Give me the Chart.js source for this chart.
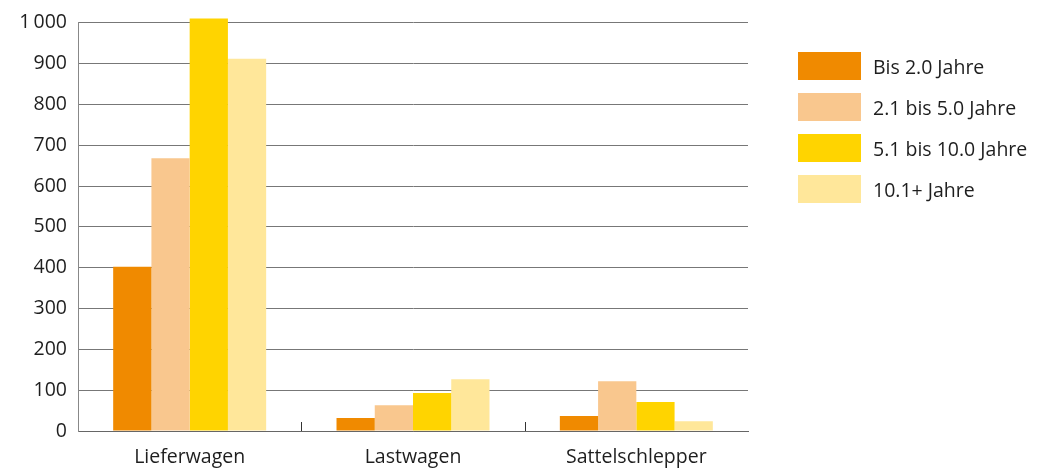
<!DOCTYPE html>
<html>
<head>
<meta charset="utf-8">
<script src="https://cdn.jsdelivr.net/npm/chart.js@4"></script>
<style>
  html, body { margin: 0; padding: 0; background: #fff; }
  #wrap { position: relative; width: 1044px; height: 468px; }
  #legend { position: absolute; left: 798px; top: 52px; font-family: "Open Sans", sans-serif; font-size: 19.5px; color: #1e1e1e; }
  #legend div { display: flex; align-items: center; height: 28px; margin-bottom: 13px; }
  #legend span.box { display: inline-block; width: 63px; height: 28px; margin-right: 12px; }
</style>
</head>
<body>
<div id="wrap">
  <canvas id="chart" width="1044" height="468"></canvas>
  <div id="legend"></div>
</div>
<script>
const categories = ["Lieferwagen", "Lastwagen", "Sattelschlepper"];
const seriesNames = ["Bis 2.0 Jahre", "2.1 bis 5.0 Jahre", "5.1 bis 10.0 Jahre", "10.1+ Jahre"];
const bis2 = [402, 32, 37];
const bis5 = [668, 63, 122];
const bis10 = [1010, 93, 71];
const ueber10 = [912, 127, 24];
const yTicks = [0, 100, 200, 300, 400, 500, 600, 700, 800, 900, 1000];
const colors = ["#F08A00", "#F9C78E", "#FFD400", "#FFE79A"];

const fontFamily = "'Open Sans', sans-serif";

// small upward ticks between the categories
const categoryTicks = {
  id: "categoryTicks",
  afterDraw(chart) {
    const x = chart.scales.x;
    const ctx = chart.ctx;
    const bottom = chart.chartArea.bottom;
    ctx.save();
    ctx.strokeStyle = "#333";
    ctx.lineWidth = 1;
    for (let i = 1; i < categories.length; i++) {
      const px = Math.round((x.getPixelForValue(i - 1) + x.getPixelForValue(i)) / 2) + 0.5;
      ctx.beginPath();
      ctx.moveTo(px, bottom - 9);
      ctx.lineTo(px, bottom);
      ctx.stroke();
    }
    ctx.restore();
  }
};

const allSeries = [bis2, bis5, bis10, ueber10];
const ctx = document.getElementById("chart").getContext("2d");
const chart = new Chart(ctx, {
  type: "bar",
  data: {
    labels: categories,
    datasets: allSeries.map((values, i) => ({
      label: seriesNames[i],
      data: values,
      backgroundColor: colors[i],
      borderWidth: 0,
      clip: false,
      categoryPercentage: 0.685,
      barPercentage: 1
    }))
  },
  options: {
    responsive: false,
    animation: false,
    layout: { padding: { top: 21, right: 296, left: 0, bottom: 0 } },
    scales: {
      x: {
        grid: { display: false },
        border: { display: true, color: "#666", width: 1 },
        ticks: { color: "#1e1e1e", font: { family: fontFamily, size: 19.5 }, padding: 7 },
        afterFit: (scale) => { scale.height = 37; }
      },
      y: {
        min: 0,
        max: 1000,
        afterBuildTicks: (scale) => { scale.ticks = yTicks.map(v => ({ value: v })); },
        grid: { color: "#777", lineWidth: 1, drawTicks: false },
        border: { display: true, color: "#888", width: 1 },
        ticks: {
          color: "#1e1e1e",
          padding: 11,
          font: { family: fontFamily, size: 19.5 },
          callback: (v) => v >= 1000 ? String(v).replace(/(\d)(?=(\d{3})+$)/, "$1\u2009") : v
        },
        afterFit: (scale) => { scale.width = 78; }
      }
    },
    plugins: {
      legend: { display: false },
      tooltip: { enabled: false }
    }
  },
  plugins: [categoryTicks]
});

const legend = document.getElementById("legend");
seriesNames.forEach((name, i) => {
  const row = document.createElement("div");
  const box = document.createElement("span");
  box.className = "box";
  box.style.background = colors[i];
  row.appendChild(box);
  row.appendChild(document.createTextNode(name));
  legend.appendChild(row);
});
</script>
</body>
</html>
